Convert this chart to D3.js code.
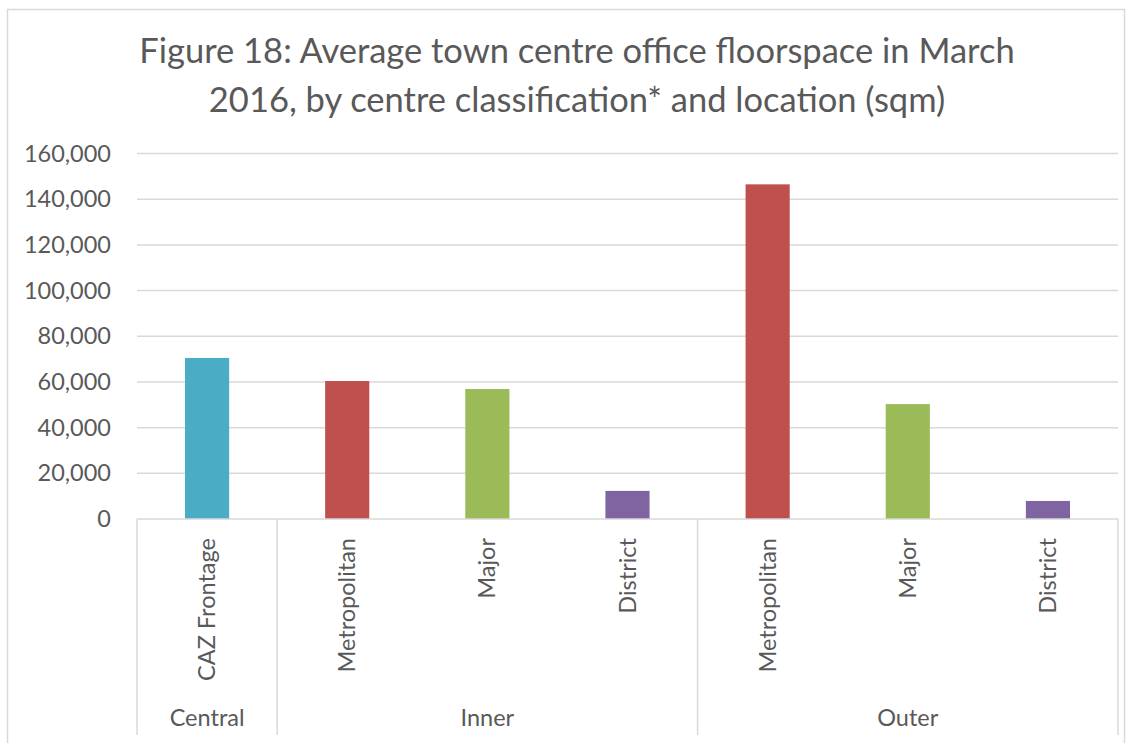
<!DOCTYPE html>
<html>
<head>
<meta charset="utf-8">
<script src="https://cdn.jsdelivr.net/npm/d3@7"></script>
<style>
  body { margin: 0; background: #fff; }
  svg { display: block; font-family: Lato, "Open Sans", sans-serif; }
</style>
</head>
<body>
<div id="chart"></div>
<script>
// data
const categories = ["CAZ Frontage", "Metropolitan", "Major", "District", "Metropolitan", "Major", "District"];
const locations = ["Central", "Inner", "Inner", "Inner", "Outer", "Outer", "Outer"];
const values = [70500, 60400, 56900, 12300, 146500, 50300, 7900];
const groups = ["Central", "Inner", "Outer"];
const yTicks = [0, 20000, 40000, 60000, 80000, 100000, 120000, 140000, 160000];
const titleLines = ["Figure 18: Average town centre office floorspace in March",
                    "2016, by centre classification* and location (sqm)"];

const colorByType = {
    "CAZ Frontage": "#4BACC6",
    "Metropolitan": "#C0504D",
    "Major": "#9BBB59",
    "District": "#8064A2"
};

const W = 1132, H = 743;
const plot = {left: 137, right: 1118, top: 153.5, bottom: 519};
const textColor = "#595959";
const lineColor = "#d9d9d9";

const svg = d3.select("#chart").append("svg")
    .attr("width", W)
    .attr("height", H);

// chart frame
svg.append("rect")
    .attr("x", 7.5).attr("y", 9.5)
    .attr("width", 1117).attr("height", H + 20)
    .attr("fill", "none")
    .attr("stroke", lineColor)
    .attr("stroke-width", 1.5);

// title
svg.append("text")
    .attr("x", 577)
    .attr("text-anchor", "middle")
    .attr("fill", textColor)
    .style("font-size", "34.5px")
    .selectAll("tspan")
    .data(titleLines)
    .join("tspan")
        .attr("x", 577)
        .attr("y", (d, i) => 63 + i * 49)
        .text(d => d);

const idx = d3.range(categories.length);

const x = d3.scaleBand()
    .domain(idx)
    .range([plot.left, plot.right])
    .paddingInner(0.685)
    .paddingOuter(0.3425);

const step = x.step();

const y = d3.scaleLinear()
    .domain([0, 160000])
    .range([plot.bottom, plot.top]);

// gridlines
svg.append("g")
    .selectAll("line")
    .data(yTicks.filter(d => d > 0))
    .join("line")
        .attr("x1", plot.left).attr("x2", plot.right)
        .attr("y1", d => y(d)).attr("y2", d => y(d))
        .attr("stroke", lineColor)
        .attr("stroke-width", 1.5);

// y axis labels
const yAxis = svg.append("g")
    .attr("transform", `translate(${plot.left},0)`)
    .call(d3.axisLeft(y).tickValues(yTicks).tickFormat(d3.format(",")).tickSize(0).tickPadding(26));
yAxis.select(".domain").remove();
yAxis.selectAll("text")
    .attr("fill", textColor)
    .style("font-size", "23.5px")
    .style("font-family", "Lato, 'Open Sans', sans-serif");

// bars
svg.append("g")
    .selectAll("rect")
    .data(idx)
    .join("rect")
        .attr("x", i => x(i))
        .attr("width", x.bandwidth())
        .attr("y", i => y(values[i]))
        .attr("height", i => y(0) - y(values[i]))
        .attr("fill", i => colorByType[categories[i]]);

// bottom axis line
svg.append("line")
    .attr("x1", plot.left).attr("x2", plot.right)
    .attr("y1", plot.bottom).attr("y2", plot.bottom)
    .attr("stroke", lineColor)
    .attr("stroke-width", 1.5);

// group extents
const groupInfo = groups.map(g => {
    const members = idx.filter(i => locations[i] === g);
    const x0 = x(members[0]) - (step - x.bandwidth()) / 2;
    const x1 = x(members[members.length - 1]) + x.bandwidth() + (step - x.bandwidth()) / 2;
    return {name: g, x0, x1};
});

const sepX = [groupInfo[0].x0].concat(groupInfo.map(g => g.x1));
svg.append("g")
    .selectAll("line")
    .data(sepX)
    .join("line")
        .attr("x1", d => d).attr("x2", d => d)
        .attr("y1", plot.bottom).attr("y2", 735)
        .attr("stroke", lineColor)
        .attr("stroke-width", 1.5);

// rotated category labels
svg.append("g")
    .selectAll("text")
    .data(idx)
    .join("text")
        .attr("transform", i => `translate(${x(i) + x.bandwidth() / 2 + 8},538) rotate(-90)`)
        .attr("text-anchor", "end")
        .attr("fill", textColor)
        .style("font-size", "23.5px")
        .text(i => categories[i]);

// group labels
svg.append("g")
    .selectAll("text")
    .data(groupInfo)
    .join("text")
        .attr("x", d => (d.x0 + d.x1) / 2)
        .attr("y", 726)
        .attr("text-anchor", "middle")
        .attr("fill", textColor)
        .style("font-size", "23.5px")
        .text(d => d.name);
</script>
</body>
</html>
